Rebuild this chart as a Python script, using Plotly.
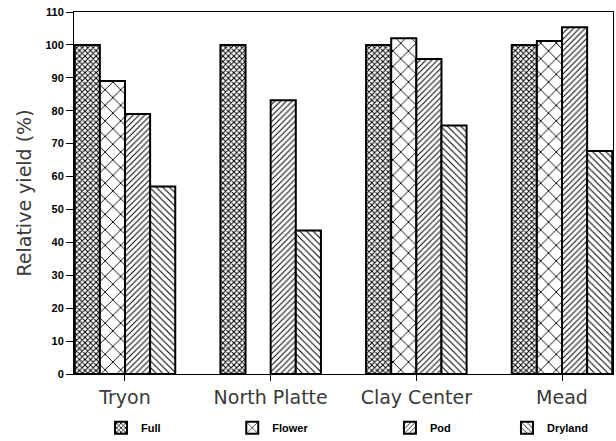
import plotly.graph_objects as go

# Relative yield (%) by site and irrigation treatment
sites = ["Tryon", "North Platte", "Clay Center", "Mead"]
site_pos = [0, 1, 2, 3]
full = [100, 100, 100, 100]
flower = [89, None, 102, 101.2]
pod = [79, 83.2, 95.7, 105.4]
dryland = [57, 43.6, 75.5, 67.8]
y_ticks = list(range(0, 111, 10))

# hatch styles: fine cross-hatch, coarse cross-hatch, forward and back diagonals
series = [
    ("Full", full, dict(shape="x", size=3.9, solidity=0.45), "legend"),
    ("Flower", flower, dict(shape="x", size=11, solidity=0.16), "legend2"),
    ("Pod", pod, dict(shape="/", size=4.1, solidity=0.24), "legend3"),
    ("Dryland", dryland, dict(shape="\\", size=4.7, solidity=0.22), "legend4"),
]

fig = go.Figure()
for name, vals, pat, leg in series:
    fig.add_trace(go.Bar(
        x=site_pos, y=vals, name=name, legend=leg,
        marker=dict(
            color="white",
            line=dict(color="black", width=2),
            pattern=dict(fgcolor="black", bgcolor="white", fillmode="overlay",
                         fgopacity=1, **pat),
        ),
    ))

legend_font = dict(family="Liberation Sans", size=11, color="black", weight="bold")
legend_x = {"legend": 0.164, "legend2": 0.377, "legend3": 0.633, "legend4": 0.823}
legend_layout = {}
for key, xpos in legend_x.items():
    legend_layout[key] = dict(
        x=xpos, y=0.03, xref="container", yref="container",
        xanchor="left", yanchor="middle", orientation="h",
        bgcolor="rgba(0,0,0,0)", font=legend_font,
    )

fig.update_layout(
    width=616, height=441,
    margin=dict(l=74, r=3, t=12, b=67),
    paper_bgcolor="white", plot_bgcolor="white",
    barmode="group", bargap=0.31, bargroupgap=0,
    showlegend=True,
    **legend_layout,
)

fig.update_xaxes(
    range=[-0.35, 3.35],
    tickmode="array", tickvals=site_pos, ticktext=sites,
    ticks="outside", ticklen=6, tickwidth=1, tickcolor="black",
    showline=True, linecolor="black", linewidth=1, mirror=True,
    showgrid=False, zeroline=False,
    tickfont=dict(family="DejaVu Sans", size=19, color="#3a3a3a"),
)
fig.update_yaxes(
    range=[0, 110],
    tickmode="array", tickvals=y_ticks,
    ticks="outside", ticklen=7, tickwidth=1, tickcolor="black",
    showline=True, linecolor="black", linewidth=1, mirror=True,
    showgrid=False, zeroline=False,
    tickfont=dict(family="Liberation Sans", size=11, color="black", weight="bold"),
    title=dict(text="Relative yield (%)", standoff=8,
               font=dict(family="DejaVu Sans", size=19, color="#3a3a3a")),
)

fig.write_html("out.html")
